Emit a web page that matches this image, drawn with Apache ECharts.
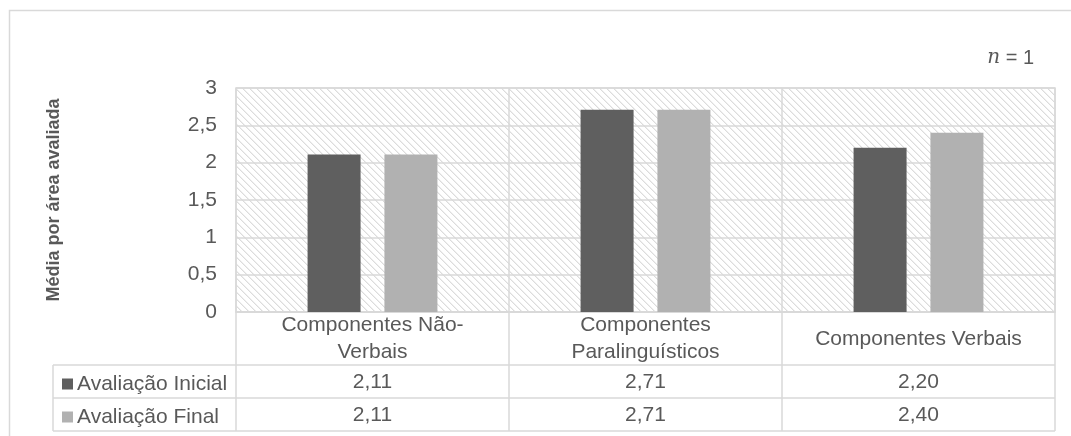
<!DOCTYPE html>
<html>
<head>
<meta charset="utf-8">
<script src="https://cdn.jsdelivr.net/npm/echarts@6/dist/echarts.min.js"></script>
<style>
  html, body { margin: 0; padding: 0; background: #ffffff; }
  #chart { width: 1071px; height: 436px; }
</style>
</head>
<body>
<div id="chart"></div>
<script>
// Categories, series and tick labels
const categories = ['Componentes Não-\nVerbais', 'Componentes\nParalinguísticos', 'Componentes Verbais'];
const seriesNames = ['Avaliação Inicial', 'Avaliação Final'];
const initialValues = [2.11, 2.71, 2.20];
const finalValues = [2.11, 2.71, 2.40];
const yTicks = [0, 0.5, 1, 1.5, 2, 2.5, 3];

const TEXT = '#595959';
const LINE = '#d9d9d9';
const FONT = '"Liberation Sans", Arial, sans-serif';

// Decimal comma formatting
const fmt = (v, d) => (d == null ? String(v) : v.toFixed(d)).replace('.', ',');

// Downward-diagonal hatch tile for the plot background
function hatchTile() {
  const n = 7;
  const c = document.createElement('canvas');
  c.width = n; c.height = n;
  const ctx = c.getContext('2d');
  ctx.fillStyle = '#ffffff';
  ctx.fillRect(0, 0, n, n);
  for (let x = 0; x < n; x++) {
    for (let y = 0; y < n; y++) {
      const k = ((x - y) % n + n) % n;
      if (k === 0) { ctx.fillStyle = '#dcdcdc'; ctx.fillRect(x, y, 1, 1); }
      else if (k === 1) { ctx.fillStyle = '#efefef'; ctx.fillRect(x, y, 1, 1); }
    }
  }
  return c;
}

const chart = echarts.init(document.getElementById('chart'), null, { renderer: 'canvas' });

const gridLeft = 236, gridRight = 16, gridTop = 88, gridBottom = 124;
const tableLeft = 53, rowTop = 365, rowH = 33;

// Hidden category axes that carry the data-table rows
const tableAxis = (values, margin) => ({
  type: 'category',
  data: values.map(v => fmt(v, 2)),
  position: 'bottom',
  axisLine: { show: false },
  axisTick: { show: false },
  splitLine: { show: false },
  axisLabel: {
    interval: 0, margin: margin, verticalAlign: 'middle',
    color: TEXT, fontSize: 21, fontFamily: FONT
  }
});

chart.setOption({
  animation: false,
  backgroundColor: '#ffffff',
  textStyle: { fontFamily: FONT },
  title: {
    text: '{n|n} = 1',
    right: 32, top: 43,
    textStyle: {
      color: TEXT, fontSize: 20, fontWeight: 'normal', fontFamily: FONT,
      rich: { n: { fontFamily: '"DejaVu Serif", "Liberation Serif", serif', fontStyle: 'italic', fontSize: 20, color: TEXT } }
    }
  },
  legend: {
    orient: 'vertical',
    left: 62, top: 373,
    padding: 0,
    itemWidth: 11, itemHeight: 11, itemGap: 11,
    icon: 'rect',
    data: seriesNames,
    textStyle: { color: TEXT, fontSize: 21, lineHeight: 22, fontFamily: FONT, padding: [0, 0, 0, -1] }
  },
  grid: {
    left: gridLeft, right: gridRight, top: gridTop, bottom: gridBottom,
    show: true,
    backgroundColor: { image: hatchTile(), repeat: 'repeat' },
    borderColor: LINE, borderWidth: 1.5
  },
  xAxis: [
    {
      type: 'category',
      data: categories,
      boundaryGap: true,
      axisLine: { show: true, lineStyle: { color: LINE, width: 1.5 } },
      axisTick: { show: true, interval: 0, length: 119, lineStyle: { color: LINE, width: 1.5 } },
      splitLine: { show: true, interval: 0, lineStyle: { color: LINE, width: 1.5 } },
      axisLabel: {
        interval: 0, margin: 27, verticalAlign: 'middle', align: 'center',
        color: TEXT, fontSize: 21, lineHeight: 27, fontFamily: FONT
      }
    },
    tableAxis(initialValues, 70),
    tableAxis(finalValues, 103)
  ],
  yAxis: {
    type: 'value',
    min: yTicks[0], max: yTicks[yTicks.length - 1], interval: 0.5,
    name: 'Média por área avaliada',
    nameLocation: 'middle',
    nameGap: 173,
    nameRotate: 90,
    nameTextStyle: { color: TEXT, fontSize: 18, fontWeight: 'bold', fontFamily: FONT },
    axisLine: { show: false },
    axisTick: { show: false },
    splitLine: { show: true, lineStyle: { color: LINE, width: 1.5 } },
    axisLabel: { margin: 19, color: TEXT, fontSize: 21, fontFamily: FONT, formatter: v => fmt(v) }
  },
  series: [
    {
      name: seriesNames[0], type: 'bar', xAxisIndex: 0,
      data: initialValues,
      barWidth: 53, barGap: '45%',
      itemStyle: { color: '#5f5f5f' }
    },
    {
      name: seriesNames[1], type: 'bar', xAxisIndex: 0,
      data: finalValues,
      barWidth: 53,
      itemStyle: { color: '#b1b1b1' }
    }
  ],
  graphic: [
    // chart frame
    { type: 'rect', silent: true, z: -1,
      shape: { x: 9.5, y: 10.5, width: 1200, height: 600 },
      style: { fill: null, stroke: LINE, lineWidth: 1.5 } },
    // data table rules
    ...[0, 1, 2].map(i => ({
      type: 'line', silent: true,
      shape: { x1: tableLeft, y1: rowTop + i * rowH, x2: 1071 - gridRight, y2: rowTop + i * rowH },
      style: { stroke: LINE, lineWidth: 1.5 }
    })),
    { type: 'line', silent: true,
      shape: { x1: tableLeft, y1: rowTop, x2: tableLeft, y2: rowTop + 2 * rowH },
      style: { stroke: LINE, lineWidth: 1.5 } }
  ]
});
</script>
</body>
</html>
